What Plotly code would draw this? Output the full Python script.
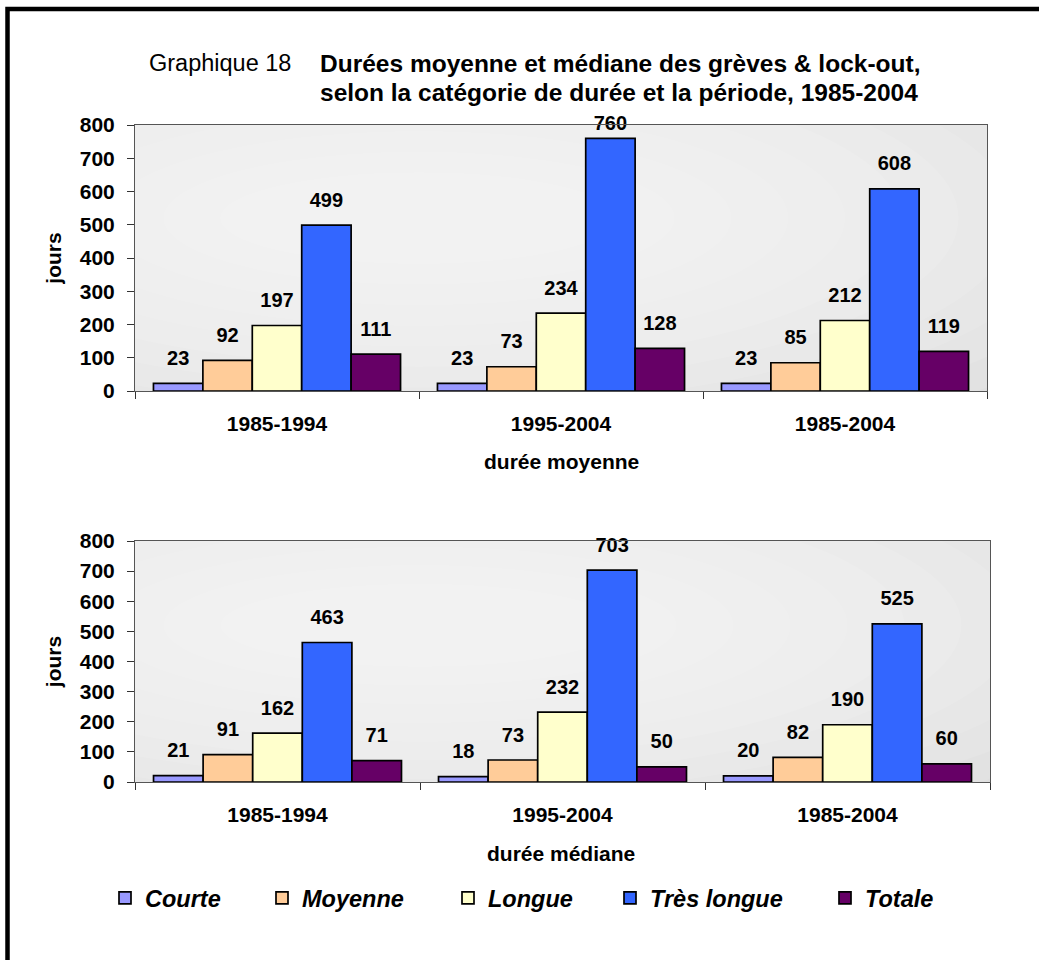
import plotly.graph_objects as go
from plotly.subplots import make_subplots

# =========================
# Data
# =========================

periods = ["1985-1994", "1995-2004", "1985-2004"]
series_names = ["Courte", "Moyenne", "Longue", "Très longue", "Totale"]

moyenne_courte = [23, 23, 23]
moyenne_moyenne = [92, 73, 85]
moyenne_longue = [197, 234, 212]
moyenne_tres_longue = [499, 760, 608]
moyenne_totale = [111, 128, 119]

mediane_courte = [21, 18, 20]
mediane_moyenne = [91, 73, 82]
mediane_longue = [162, 232, 190]
mediane_tres_longue = [463, 703, 525]
mediane_totale = [71, 50, 60]

colors = ["#9999FF", "#FFCC99", "#FFFFCC", "#3366FF", "#660066"]

# =========================
# Figure
# =========================

W, H = 1039, 960
FONT = "Liberation Sans, Arial, sans-serif"


def px_x(v):
    return v / W


def px_y(v):
    return 1 - v / H


fig = make_subplots(rows=2, cols=1)

panels = [
    [moyenne_courte, moyenne_moyenne, moyenne_longue, moyenne_tres_longue, moyenne_totale],
    [mediane_courte, mediane_moyenne, mediane_longue, mediane_tres_longue, mediane_totale],
]

label_font = dict(family=FONT, size=20, color="black", weight="bold")

for row, panel in enumerate(panels, start=1):
    for k, (name, vals, col) in enumerate(zip(series_names, panel, colors)):
        legend_id = "legend" if k == 0 else "legend%d" % (k + 1)
        fig.add_trace(
            go.Bar(
                x=periods,
                y=vals,
                name=name,
                offsetgroup=name,
                marker=dict(color=col, line=dict(color="black", width=1.7)),
                showlegend=(row == 1),
                legend=legend_id,
            ),
            row=row,
            col=1,
        )
    # value labels, grouped like the bars, lifted above the bar tops
    # (a label that would leave the plot area sits closer to its bar)
    for name, vals in zip(series_names, panel):
        fig.add_trace(
            go.Scatter(
                x=periods,
                y=vals,
                offsetgroup=name,
                mode="markers+text",
                marker=dict(size=[20 if v < 740 else 4 for v in vals], opacity=0),
                text=vals,
                textposition="top center",
                textfont=label_font,
                cliponaxis=False,
                showlegend=False,
                hoverinfo="skip",
            ),
            row=row,
            col=1,
        )

axis_font = dict(family=FONT, size=21, color="black", weight="bold")

fig.update_layout(
    xaxis=dict(domain=[px_x(135), px_x(987)], anchor="y"),
    yaxis=dict(domain=[px_y(391), px_y(125)], anchor="x"),
    xaxis2=dict(domain=[px_x(135), px_x(990)], anchor="y2"),
    yaxis2=dict(domain=[px_y(782), px_y(541)], anchor="x2"),
)

fig.update_xaxes(
    type="category",
    range=[-0.5, 2.5],
    tickson="boundaries",
    ticks="outside",
    ticklen=7,
    tickcolor="#333333",
    showline=True,
    linecolor="#555555",
    linewidth=1,
    mirror=True,
    showgrid=False,
    tickfont=axis_font,
    ticklabelstandoff=14,
    automargin=False,
)
fig.update_yaxes(
    range=[0, 800],
    dtick=100,
    ticks="outside",
    ticklen=7,
    tickcolor="#333333",
    showline=True,
    linecolor="#555555",
    linewidth=1,
    mirror=True,
    showgrid=False,
    zeroline=False,
    tickfont=axis_font,
    ticklabelstandoff=8,
    title=dict(text="jours", font=axis_font, standoff=12),
    automargin=False,
)

# soft radial highlight inside each plot area
for xr, yr in [("x", "y"), ("x2", "y2")]:
    for i in range(12):
        rx = 2.9 - i * 0.2
        ry = 820 - i * 62
        fig.add_shape(
            type="circle", xref=xr, yref=yr,
            x0=0.5 - rx, x1=0.5 + rx, y0=520 - ry, y1=520 + ry,
            fillcolor="white", opacity=0.1, line=dict(width=0),
            layer="below",
        )

legend_font = dict(family=FONT, size=23.5, color="black", weight="bold", style="italic")
legend_centers = [127, 284, 470, 632, 847]
legends = {}
for k, cx in enumerate(legend_centers):
    key = "legend" if k == 0 else "legend%d" % (k + 1)
    legends[key] = dict(
        orientation="h",
        x=px_x(cx - 22),
        xanchor="left",
        y=px_y(898),
        yanchor="middle",
        font=legend_font,
        bgcolor="rgba(0,0,0,0)",
    )

fig.update_layout(
    width=W,
    height=H,
    margin=dict(l=0, r=0, t=0, b=0, autoexpand=False),
    paper_bgcolor="white",
    plot_bgcolor="#DCDCDC",
    barmode="group",
    bargap=0.13,
    bargroupgap=0,
    scattermode="group",
    scattergap=0.13,
    font=dict(family=FONT, color="black"),
    **legends,
)

# =========================
# Titles and annotations
# =========================

annotations = [
    dict(text="Graphique 18", x=px_x(147), y=px_y(63), xanchor="left",
         font=dict(family=FONT, size=23.5, color="black")),
    dict(text="<b>Durées moyenne et médiane des grèves & lock-out,</b>", x=px_x(318),
         y=px_y(63), xanchor="left", font=dict(family=FONT, size=24.5, color="black")),
    dict(text="<b>selon la catégorie de durée et la période, 1985-2004</b>", x=px_x(318),
         y=px_y(92), xanchor="left", font=dict(family=FONT, size=24.5, color="black")),
    dict(text="durée moyenne", x=px_x(561), y=px_y(462), xanchor="center", font=axis_font),
    dict(text="durée médiane", x=px_x(561), y=px_y(853), xanchor="center", font=axis_font),
]
for a in annotations:
    fig.add_annotation(xref="paper", yref="paper", yanchor="middle", showarrow=False, **a)

# outer frame
fig.add_shape(
    type="rect", xref="paper", yref="paper",
    x0=px_x(7.5), x1=1.05, y0=-0.05, y1=px_y(9),
    line=dict(color="black", width=4.5), fillcolor="rgba(0,0,0,0)",
)

fig.write_html(
    "out.html",
    config={"displayModeBar": False},
    post_script="document.body.style.margin='0';",
)
